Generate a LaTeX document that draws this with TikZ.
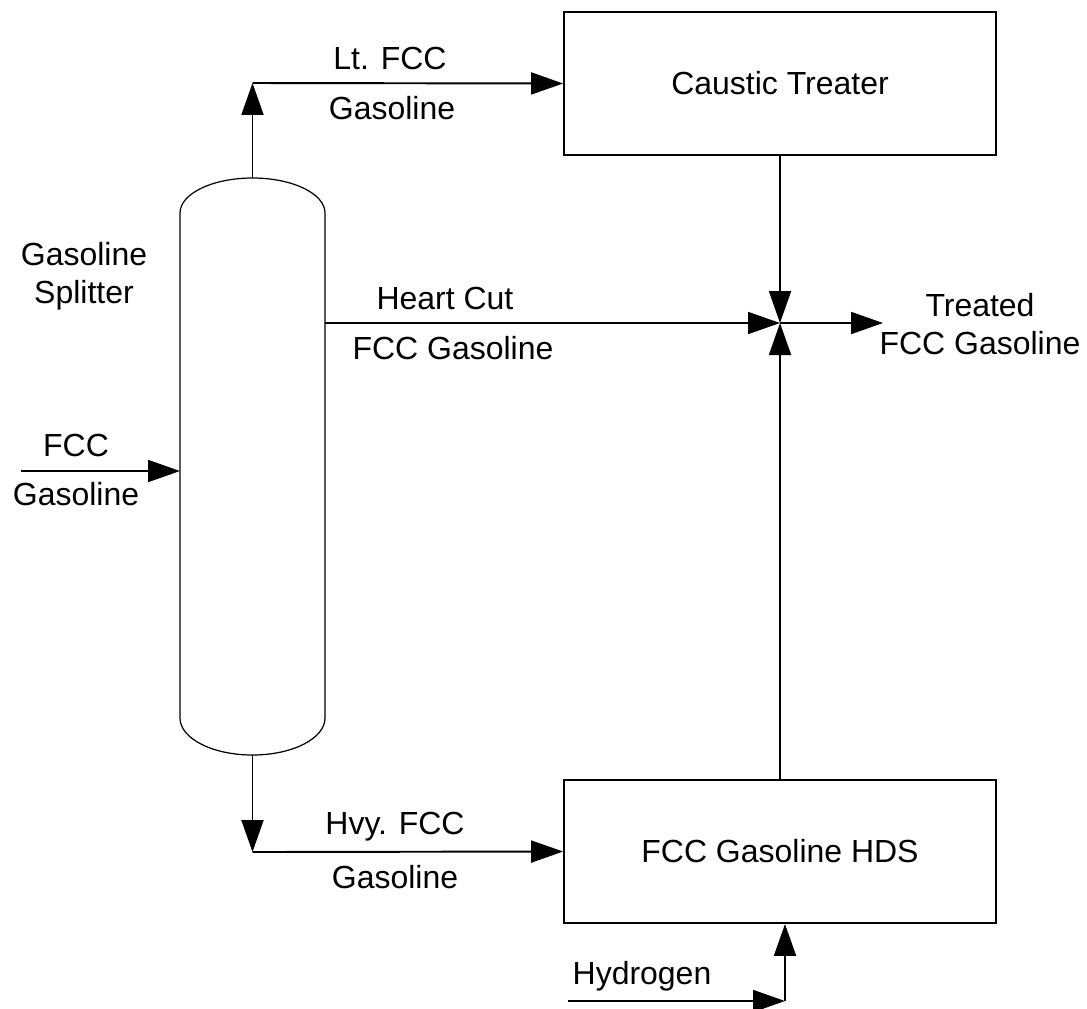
\documentclass[tikz,border=0pt]{standalone}
\usepackage{fontspec}
\setmainfont{Liberation Sans}
\usetikzlibrary{arrows.meta}
\begin{document}
\begin{tikzpicture}[x=0.02cm,y=-0.02cm,
  font=\fontsize{18.2}{21.6}\selectfont,
  unit/.style={draw, line width=1.1pt, minimum width=8.64cm, minimum height=2.86cm, inner sep=0pt},
  flow/.style={line width=1.1pt, -{Triangle[length=0.64cm,width=0.44cm]}},
  lbl/.style={align=center, inner sep=0pt}]
\useasboundingbox (0,0) rectangle (1087,1008);
% units
\node[unit] (caustic) at (780,83.5) {Caustic Treater};
\node[unit] (hds) at (780,851.5) {FCC Gasoline HDS};
% column
\draw[line width=0.7pt] (180,213) arc[start angle=180, end angle=360, x radius=72.5, y radius=35]
  -- (325,718) arc[start angle=0, end angle=-180, x radius=72.5, y radius=-37] -- cycle;
\coordinate (colTop) at (252.5,178);
\coordinate (colBot) at (252.5,755);
\coordinate (colLeft) at (180,471);
\coordinate (colRight) at (325,323);
\coordinate (ltc) at (252.5,83);
\coordinate (hvc) at (252.5,852);
\coordinate (feed) at (21,471);
\coordinate (J) at (780,323);
\coordinate (out) at (883,323);
\coordinate (h2s) at (568,1001);
\coordinate (h2c) at (785,1001);
% connectors
\draw[flow] (colTop) -- (ltc);
\draw[flow] (ltc) -- (caustic.west);
\draw[flow] (colBot) -- (hvc);
\draw[flow] (hvc) -- (hds.west);
\draw[flow] (feed) -- (colLeft);
\draw[flow] (colRight) -- (J);
\draw[flow] (caustic.south) -- (J);
\draw[flow] (hds.north) -- (J);
\draw[flow] (J) -- (out);
\draw[flow] (h2s) -- (h2c);
\draw[flow] (h2c) -- (h2c |- hds.south);
% labels
\node[lbl] (lsplit) at (84,276) {Gasoline\\Splitter};
\node[lbl] (lfeed1) at (76,445) {FCC};
\node[lbl] (lfeed2) at (76,494) {Gasoline};
\node[lbl] (llt1) at (390,58) {Lt. FCC};
\node[lbl] (llt2) at (392,108) {Gasoline};
\node[lbl] (lhc1) at (445,298) {Heart Cut};
\node[lbl] (lhc2) at (453,348) {FCC Gasoline};
\node[lbl] (lhv1) at (395,827) {Hvy. FCC};
\node[lbl] (lhv2) at (395,877) {Gasoline};
\node[lbl] (ltr) at (980,324) {Treated\\FCC Gasoline};
\node[lbl] (lh2) at (642,976) {Hydrogen};
\end{tikzpicture}
\end{document}
